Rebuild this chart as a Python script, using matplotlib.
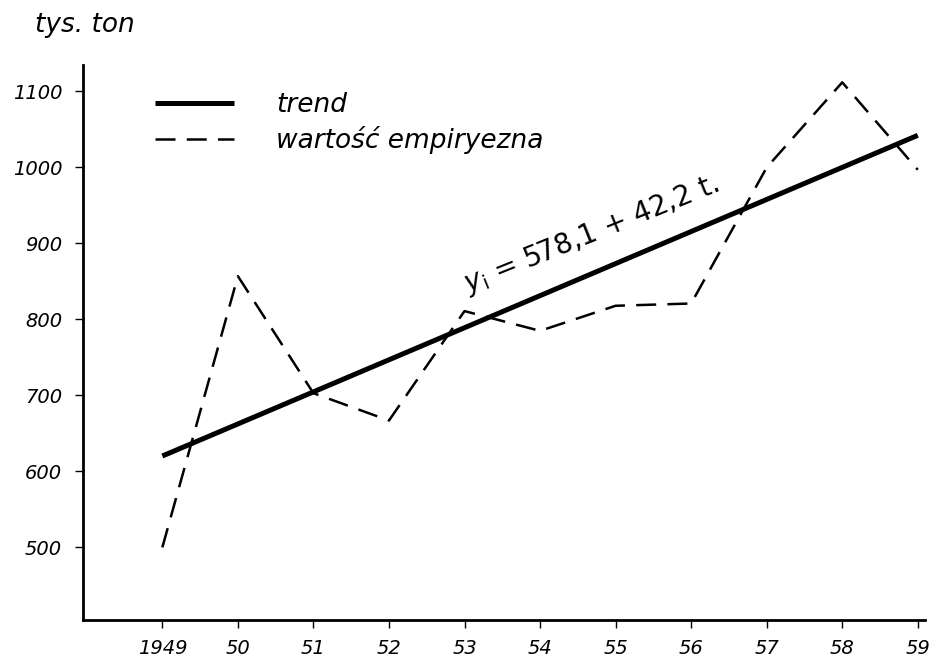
import matplotlib.pyplot as plt

# production, thousand tonnes
years = [1949, 1950, 1951, 1952, 1953, 1954, 1955, 1956, 1957, 1958, 1959]
year_labels = ["1949", "50", "51", "52", "53", "54", "55", "56", "57", "58", "59"]
empirical = [500, 857, 703, 667, 811, 785, 818, 821, 1000, 1112, 997]
trend_a = 578.1
trend_b = 42.2
yticks = [500, 600, 700, 800, 900, 1000, 1100]

t = [i + 1 for i in range(len(years))]
trend = [trend_a + trend_b * ti for ti in t]

plt.rcParams['font.family'] = ['DejaVu Sans']

fig = plt.figure(figsize=(9.38, 6.62), dpi=100)
ax = fig.add_axes([0.0885, 0.064, 0.898, 0.838])

ax.plot(years, trend, color='black', lw=3.6, solid_capstyle='butt', label='trend')
ax.plot(years, empirical, color='black', lw=1.8, dashes=(8, 4.5), label='wartość empiryezna')

ax.set_xlim(1947.95, 1959.1)
ax.set_ylim(405, 1135)
ax.set_xticks(years)
ax.set_xticklabels(year_labels, fontstyle='italic', fontsize=14)
ax.set_yticks(yticks)
ax.set_yticklabels([str(v) for v in yticks], fontstyle='italic', fontsize=14)
ax.tick_params(axis='x', direction='out', length=6, width=1, pad=8)
ax.tick_params(axis='y', direction='out', length=6, width=1, pad=9)

for s in ['top', 'right']:
    ax.spines[s].set_visible(False)
ax.spines['left'].set_linewidth(2)
ax.spines['bottom'].set_linewidth(2)

leg = ax.legend(loc='upper left', bbox_to_anchor=(0.085, 0.951), frameon=False,
                borderaxespad=0, borderpad=0,
                handlelength=3.0, handletextpad=1.6, labelspacing=0.3,
                prop={'style': 'italic', 'size': 19})

ax.text(1953.05, 836, "$y_\\mathrm{i}$ = 578,1 + 42,2 t.", rotation=22,
        rotation_mode='anchor', ha='left', va='baseline', fontsize=20)

fig.text(0.037, 0.962, "tys. ton", fontstyle='italic', fontsize=19, va='center')

fig.savefig("out.png", dpi=100, facecolor='white')
